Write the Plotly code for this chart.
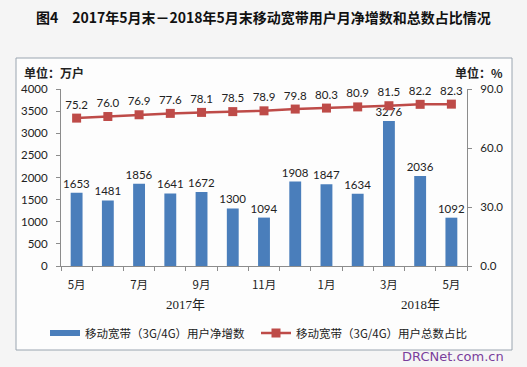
import plotly.graph_objects as go

months = ["5月", "6月", "7月", "8月", "9月", "10月", "11月", "12月", "1月", "2月", "3月", "4月", "5月"]
net_add = [1653, 1481, 1856, 1641, 1672, 1300, 1094, 1908, 1847, 1634, 3276, 2036, 1092]
share = [75.2, 76.0, 76.9, 77.6, 78.1, 78.5, 78.9, 79.8, 80.3, 80.9, 81.5, 82.2, 82.3]
left_ticks = [0, 500, 1000, 1500, 2000, 2500, 3000, 3500, 4000]
right_ticks = [0, 30, 60, 90]
year_labels = ["2017年", "2018年"]
bar_name = "移动宽带（3G/4G）用户净增数"
line_name = "移动宽带（3G/4G）用户总数占比"
title = "图4　2017年5月末－2018年5月末移动宽带用户月净增数和总数占比情况"

idx = list(range(len(months)))
label_idx = [i for i in idx if i % 2 == 0]

CJK = "Noto Sans CJK SC"
NUM = "Lato, Noto Sans CJK SC"
AX = "#8c8c8c"
BLUE = "#4a7ebb"
RED = "#be4b48"

fig = go.Figure()
fig.add_trace(go.Bar(
    x=idx, y=net_add, name=bar_name, showlegend=False,
    marker=dict(color=BLUE, line=dict(width=0)),
    text=[str(v) for v in net_add], textposition="outside", constraintext="none",
    textfont=dict(family=NUM, size=11.5, color="#222"),
    cliponaxis=False, width=0.38,
))
# legend key for the bars (flat swatch as in the reference)
fig.add_trace(go.Scatter(
    x=[None], y=[None], name=bar_name, mode="lines", legend="legend",
    line=dict(color=BLUE, width=6), hoverinfo="skip",
))
fig.add_trace(go.Scatter(
    x=idx, y=share, name=line_name, yaxis="y2", mode="lines+markers+text", legend="legend2",
    line=dict(color=RED, width=2.5),
    marker=dict(symbol="square", size=9, color=RED),
    text=[f"{v:.1f}" for v in share], textposition="top center",
    textfont=dict(family=NUM, size=11.5, color="#222"),
    cliponaxis=False,
))

leg_y = (266 - 333) / 177
fig.update_layout(
    width=527, height=367,
    margin=dict(l=61, r=60, t=89, b=101),
    paper_bgcolor="#f5f5f5", plot_bgcolor="rgba(0,0,0,0)",
    showlegend=True,
    legend=dict(orientation="h", x=(45 - 61) / 406, xanchor="left", y=leg_y, yanchor="middle",
                font=dict(family=CJK, size=11.5, color="#222"),
                bgcolor="rgba(0,0,0,0)", itemwidth=30),
    legend2=dict(orientation="h", x=(256 - 61) / 406, xanchor="left", y=leg_y, yanchor="middle",
                 font=dict(family=CJK, size=11.5, color="#222"),
                 bgcolor="rgba(0,0,0,0)", itemwidth=30),
    xaxis=dict(range=[-0.5, 12.5], tickvals=label_idx,
               ticktext=[months[i] for i in label_idx],
               ticks="", showline=True, linecolor=AX, linewidth=1,
               showgrid=False, zeroline=False, ticklabelstandoff=8,
               tickfont=dict(family=CJK, size=11.5, color="#222"),
               minor=dict(tickvals=[i - 0.5 for i in range(len(months) + 1)],
                          ticks="outside", ticklen=4, tickcolor=AX, showgrid=False)),
    yaxis=dict(range=[0, 4000], tickvals=left_ticks, ticks="outside", ticklen=4,
               tickcolor=AX, showline=True, linecolor=AX,
               showgrid=False, zeroline=False, ticklabelstandoff=6,
               tickfont=dict(family=NUM, size=11.5, color="#222")),
    yaxis2=dict(range=[0, 90], tickvals=right_ticks, tickformat=".1f", overlaying="y",
                side="right", ticks="outside", ticklen=4, tickcolor=AX,
                showline=True, linecolor=AX, showgrid=False, zeroline=False,
                ticklabelstandoff=6,
                tickfont=dict(family=NUM, size=11.5, color="#222")),
    shapes=[dict(type="rect", xref="paper", yref="paper",
                 x0=(16 - 61) / 406, x1=(512 - 61) / 406,
                 y0=(266 - 350) / 177, y1=(266 - 58) / 177,
                 line=dict(color="#9aa5b0", width=1), fillcolor="#fdfdfd", layer="below")],
    annotations=[
        dict(text=f"<b>{title}</b>", xref="paper", yref="paper",
             x=(263 - 61) / 406, y=(266 - 17) / 177, showarrow=False,
             font=dict(family=CJK, size=14, color="#111"), xanchor="center", yanchor="middle"),
        dict(text="<b>单位：万户</b>", xref="paper", yref="paper",
             x=(22 - 61) / 406, y=(266 - 73) / 177, showarrow=False, xanchor="left",
             yanchor="middle", font=dict(family=CJK, size=12, color="#222")),
        dict(text="<b>单位：%</b>", xref="paper", yref="paper",
             x=(505 - 61) / 406, y=(266 - 73) / 177, showarrow=False, xanchor="right",
             yanchor="middle", font=dict(family=CJK, size=12, color="#222")),
        dict(text=year_labels[0], xref="x", yref="paper", x=3.5,
             y=(266 - 304) / 177, showarrow=False, yanchor="middle",
             font=dict(family="Liberation Serif, Noto Sans CJK SC", size=13, color="#222")),
        dict(text=year_labels[1], xref="x", yref="paper", x=11,
             y=(266 - 304) / 177, showarrow=False, yanchor="middle",
             font=dict(family="Liberation Serif, Noto Sans CJK SC", size=13, color="#222")),
        dict(text="DRCNet.com.cn", xref="paper", yref="paper", x=(506 - 61) / 406,
             y=(266 - 356) / 177, showarrow=False, xanchor="right", yanchor="middle",
             font=dict(family="DejaVu Sans", size=13, color="#7a3e9c")),
    ],
)

fig.write_html("out.html", config={"displayModeBar": False},
               post_script="document.body.style.margin='0';")
